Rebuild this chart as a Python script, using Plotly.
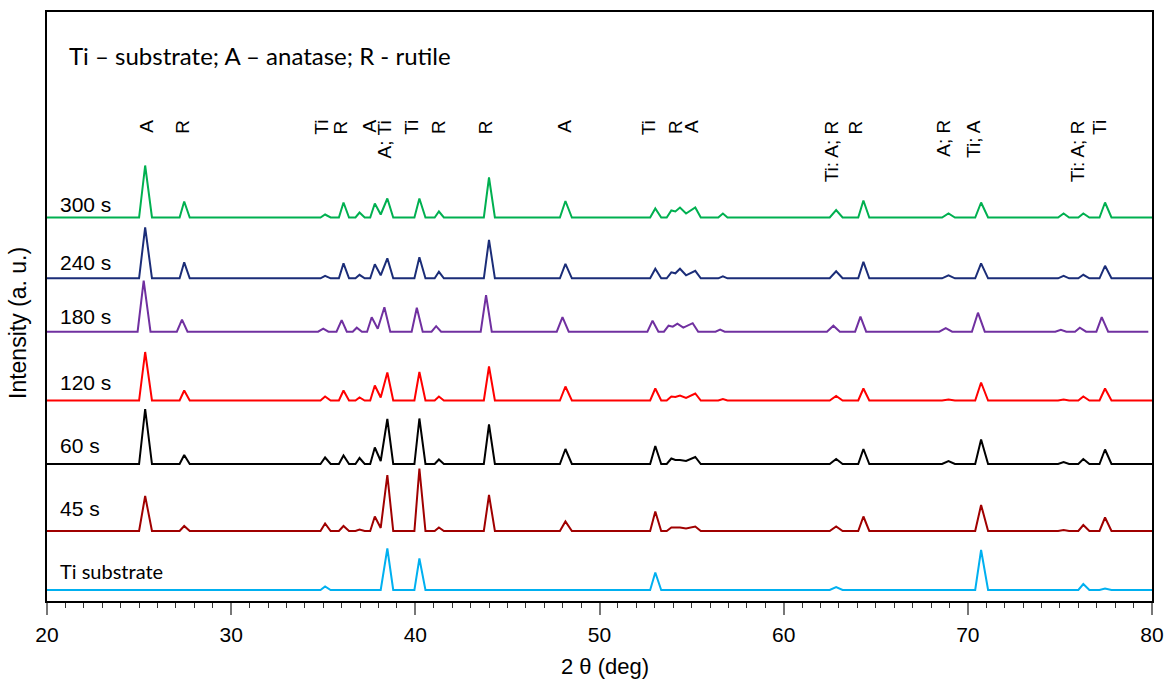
import plotly.graph_objects as go

# ---- data ----
# vertex positions (2θ, deg) shared by most patterns
two_theta = [20.0, 25.0, 25.33, 25.7, 27.2, 27.45, 27.75, 34.85, 35.1, 35.4,
             35.85, 36.1, 36.4, 36.75, 36.97, 37.25, 37.55, 37.8, 38.12, 38.48, 38.8,
             39.95, 40.22, 40.55, 41.05, 41.28, 41.55, 43.72, 44.0, 44.32,
             47.85, 48.15, 48.5, 52.75, 53.03, 53.35, 53.65, 53.9, 54.12, 54.37, 54.7,
             55.2, 55.5, 56.45, 56.7, 56.95, 62.5, 62.85, 63.2, 64.05, 64.33, 64.65,
             68.6, 68.95, 69.3, 70.4, 70.72, 71.1, 74.9, 75.2, 75.5, 76.0, 76.27, 76.6,
             77.15, 77.45, 77.8, 80.0]
# the 180 s pattern is slightly shifted to lower angles
two_theta_180 = [20.0, 24.92, 25.25, 25.62, 27.05, 27.33, 27.63, 34.72, 35.0, 35.28,
                 35.72, 36.0, 36.28, 36.6, 36.82, 37.1, 37.38, 37.63, 37.96, 38.32, 38.64,
                 39.8, 40.08, 40.4, 40.88, 41.13, 41.4, 43.55, 43.84, 44.15,
                 47.68, 47.99, 48.33, 52.6, 52.88, 53.2, 53.5, 53.75, 53.98, 54.23, 54.55,
                 55.06, 55.36, 56.3, 56.55, 56.8, 62.35, 62.7, 63.05, 63.88, 64.17, 64.48,
                 68.45, 68.8, 69.15, 70.22, 70.55, 70.92, 74.75, 75.05, 75.35, 75.82, 76.08, 76.42,
                 76.98, 77.27, 77.62, 79.8]

# intensity above each pattern's own baseline (a. u.)
i_300s = [0, 0, 52, 0, 0, 16, 0, 0, 3, 0, 0, 15, 0, 0, 5, 0, 0, 14, 3, 19, 0,
          0, 19, 0, 0, 6, 0, 0, 40, 0, 0, 16.5, 0, 0, 9, 0, 0, 7, 6, 10, 4, 10, 0,
          0, 4, 0, 0, 7.5, 0, 0, 17, 0, 0, 4, 0, 0, 15, 0, 0, 4, 0, 0, 4, 0, 0, 15, 0, 0]
i_240s = [0, 0, 51, 0, 0, 16, 0, 0, 2.5, 0, 0, 15, 0, 0, 3.5, 0, 0, 14, 3, 20, 0,
          0, 21, 0, 0, 6.5, 0, 0, 38.5, 0, 0, 14.5, 0, 0, 9.5, 0, 0, 6, 5, 9.5, 3, 7.5, 0,
          0, 2, 0, 0, 7, 0, 0, 16.5, 0, 0, 3, 0, 0, 15, 0, 0, 2.5, 0, 0, 3.5, 0, 0, 12.5, 0, 0]
i_180s = [0, 0, 51, 0, 0, 12, 0, 0, 3, 0, 0, 11.5, 0, 0, 4, 0, 0, 14.5, 3, 24.5, 0,
          0, 24, 0, 0, 5.5, 0, 0, 36.5, 0, 0, 14.5, 0, 0, 11, 0, 0, 6, 5, 8, 4, 8.5, 0,
          0, 2, 0, 0, 6, 0, 0, 15, 0, 0, 3.5, 0, 0, 19, 0, 0, 2, 0, 0, 4, 0, 0, 14.5, 0, 0]
i_120s = [0, 0, 48.5, 0, 0, 10, 0, 0, 4, 0, 0, 10, 0, 0, 3, 0, 0, 15, 3, 28, 0,
          0, 28.5, 0, 0, 4, 0, 0, 34, 0, 0, 14, 0, 0, 12, 0, 0, 4, 3.5, 5, 2.5, 7, 0,
          0, 1.5, 0, 0, 4.5, 0, 0, 12, 0, 0, 1, 0, 0, 18, 0, 0, 1, 0, 0, 4, 0, 0, 12, 0, 0]
i_60s = [0, 0, 55, 0, 0, 9, 0, 0, 6.5, 0, 0, 8.5, 0, 0, 6, 0, 0, 16.5, 3, 45, 0,
         0, 45.5, 0, 0, 4.5, 0, 0, 39.5, 0, 0, 15, 0, 0, 18, 0, 0, 5.5, 4, 4, 3, 7, 0,
         0, 0, 0, 0, 5, 0, 0, 15, 0, 0, 3, 0, 0, 24.5, 0, 0, 2, 0, 0, 5, 0, 0, 14.5, 0, 0]
i_45s = [0, 0, 35, 0, 0, 5, 0, 0, 7.5, 0, 0, 5, 0, 0, 1.5, 0, 0, 14.5, 3, 56, 0,
         0, 62.5, 0, 0, 3.5, 0, 0, 36, 0, 0, 9.5, 0, 0, 19.5, 0, 0, 3.5, 3.5, 3.5, 2.5, 4.5, 0,
         0, 0, 0, 0, 4.5, 0, 0, 14.5, 0, 0, 0.5, 0, 0, 26, 0, 0, 1, 0, 0, 6, 0, 0, 13.5, 0, 0]
i_ti = [0, 0, 0, 0, 0, 0, 0, 0, 3.5, 0, 0, 0, 0, 0, 0, 0, 0, 0, 0, 41.5, 0,
        0, 31.5, 0, 0, 0, 0, 0, 0, 0, 0, 0, 0, 0, 17.5, 0, 0, 0, 0, 0, 0, 0, 0,
        0, 0, 0, 0, 3, 0, 0, 0, 0, 0, 0, 0, 0, 40, 0, 0, 0, 0, 0, 6, 0, 0, 1.5, 0, 0]

series_names = ["Ti substrate", "45 s", "60 s", "120 s", "180 s", "240 s", "300 s"]
series_offsets = [11, 70, 137, 200.5, 269.3, 322.7, 383.5]   # vertical stacking (a. u.)
series_colors = ["#00b0f0", "#a00000", "#000000", "#ff0000", "#7030a0", "#1b2d78", "#00b050"]
series_x = [two_theta, two_theta, two_theta, two_theta, two_theta_180, two_theta, two_theta]
series_y = [i_ti, i_45s, i_60s, i_120s, i_180s, i_240s, i_300s]

peak_labels = ["A", "R", "Ti", "R", "A", "A; Ti", "Ti", "R", "R", "A", "Ti", "R", "A",
               "Ti: A; R", "R", "A; R", "Ti; A", "Ti: A; R", "Ti"]
peak_label_2theta = [25.39, 27.31, 34.89, 35.93, 37.49, 38.32, 39.78, 41.23, 43.79, 48.09,
                     52.68, 54.1, 55.0, 62.59, 63.9, 68.66, 70.28, 75.94, 77.15]

# ---- figure ----
fig = go.Figure()
for name, off, col, xs, ys in zip(series_names, series_offsets, series_colors, series_x, series_y):
    fig.add_trace(go.Scatter(x=xs, y=[off + v for v in ys], mode="lines", name=name,
                             line=dict(color=col, width=2), showlegend=False,
                             hoverinfo="skip"))

X0, X1, Y0, Y1 = 47, 1152, 12, 601          # plot box in pixels
W, H = 1164, 680
ymax = Y1 - Y0
ARIAL = "Liberation Sans, Arial, sans-serif"


def xd(px):
    return 20 + (px - X0) * 60.0 / (X1 - X0)


ann = []
# series labels (positioned by pixel height in the reference)
label_px_y = [570.7, 508.3, 445.7, 382.3, 316.7, 262.7, 204]
for name, py in zip(series_names, label_px_y):
    if name == "Ti substrate":
        fnt = dict(family="Lato, sans-serif", size=20, color="#000")
    else:
        fnt = dict(family=ARIAL, size=21, color="#000")
    ann.append(dict(x=xd(58), y=Y1 - py, xref="x", yref="y", text=name, showarrow=False,
                    xanchor="left", yanchor="middle", font=fnt))

# peak identification labels (rotated)
for t, xv in zip(peak_labels, peak_label_2theta):
    ann.append(dict(x=xv, y=(Y1 - 118) / ymax, xref="x", yref="paper", text=t,
                    showarrow=False, textangle=-90, xanchor="center", yanchor="top",
                    font=dict(family=ARIAL, size=19, color="#000")))

# legend-like note
ann.append(dict(x=(67 - X0) / (X1 - X0), y=(Y1 - 55) / ymax, xref="paper", yref="paper",
                text="Ti – substrate; A – anatase; R - rutile", showarrow=False,
                xanchor="left", yanchor="middle",
                font=dict(family="Lato, sans-serif", size=24, color="#000")))
# axis titles
ann.append(dict(x=(605 - X0) / (X1 - X0), y=(Y1 - 666) / ymax, xref="paper", yref="paper",
                text="2 θ (deg)", showarrow=False, xanchor="center", yanchor="middle",
                font=dict(family=ARIAL, size=22, color="#000")))
ann.append(dict(x=(18 - X0) / (X1 - X0), y=(Y1 - 323) / ymax, xref="paper", yref="paper",
                text="Intensity (a. u.)", showarrow=False, textangle=-90,
                xanchor="center", yanchor="middle",
                font=dict(family=ARIAL, size=23, color="#000")))

fig.update_layout(
    width=W, height=H,
    margin=dict(l=X0, r=W - X1, t=Y0, b=H - Y1, autoexpand=False),
    paper_bgcolor="white", plot_bgcolor="white",
    annotations=ann,
    xaxis=dict(range=[20, 80], tick0=20, dtick=10, ticks="outside", ticklen=12, tickwidth=1.5,
               tickcolor="#777", showline=True, linecolor="#000", linewidth=2, mirror=True,
               showgrid=False, zeroline=False,
               tickfont=dict(family=ARIAL, size=21, color="#000"),
               ticklabelstandoff=2,
               minor=dict(dtick=1, ticks="outside", ticklen=5, tickwidth=1.2, tickcolor="#333",
                          showgrid=False)),
    yaxis=dict(range=[0, ymax], showticklabels=False, ticks="", showline=True, linecolor="#000",
               linewidth=2, mirror=True, showgrid=False, zeroline=False),
)

fig.write_html("out.html")
